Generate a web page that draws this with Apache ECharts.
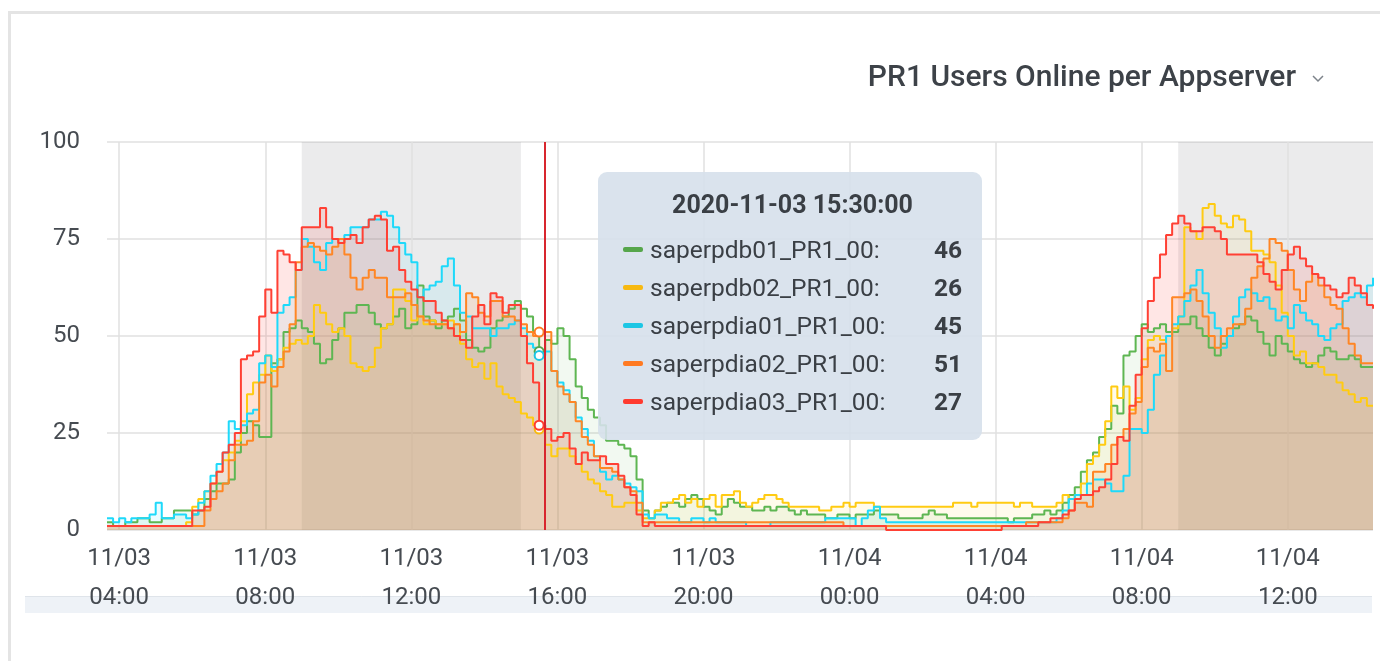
<!DOCTYPE html>
<html>
<head>
<meta charset="utf-8">
<script src="https://cdn.jsdelivr.net/npm/echarts@6/dist/echarts.min.js"></script>
<style>
  html, body { margin: 0; padding: 0; background: #ffffff; }
  #chart { width: 1380px; height: 661px; }
</style>
</head>
<body>
<div id="chart"></div>
<script>
// ---------------- DATA ----------------
const chartTitle = 'PR1 Users Online per Appserver';
const seriesNames = ['saperpdb01_PR1_00', 'saperpdb02_PR1_00', 'saperpdia01_PR1_00', 'saperpdia02_PR1_00', 'saperpdia03_PR1_00'];
// samples every 10 minutes, starting at this time
const firstSampleTime = '2020-11-03T03:40:00';
const sampleStepMinutes = 10;
const axisStart = '2020-11-03T03:40:00';
const axisEnd = '2020-11-04T14:20:00';
const xTickTimes = ['2020-11-03T04:00:00', '2020-11-03T08:00:00', '2020-11-03T12:00:00', '2020-11-03T16:00:00',
  '2020-11-03T20:00:00', '2020-11-04T00:00:00', '2020-11-04T04:00:00', '2020-11-04T08:00:00', '2020-11-04T12:00:00'];
const yTicks = [0, 25, 50, 75, 100];
const businessHours = [['2020-11-03T09:00:00', '2020-11-03T15:00:00'], ['2020-11-04T09:00:00', '2020-11-04T15:00:00']];
const annotationTime = '2020-11-03T15:40:00';
const hoverTime = '2020-11-03T15:30:00';

const saperpdb01 = [
  2,1,1,2,2,3,3,2,2,3,
  3,5,5,5,4,5,8,10,12,12,
  13,20,25,28,27,24,24,43,44,51,
  52,54,52,51,48,43,44,49,52,56,
  56,58,58,56,53,52,53,55,57,52,
  53,63,55,54,52,54,55,57,54,49,
  47,46,47,52,54,55,57,59,57,55,
  51,46,49,48,52,50,44,37,34,31,
  29,27,23,23,22,21,19,13,5,3,
  5,6,7,7,6,8,9,8,6,5,
  4,6,8,7,6,6,5,5,6,5,
  6,6,5,4,5,4,4,4,3,3,
  4,4,3,4,4,4,5,4,4,4,
  3,3,3,3,4,5,4,4,3,3,
  3,3,3,3,3,3,3,3,2,3,
  3,3,4,4,5,4,5,7,9,11,
  15,18,20,24,26,32,30,45,46,50,
  53,51,52,53,51,51,53,53,55,52,
  50,47,45,48,50,52,53,55,54,51,
  48,45,50,48,46,44,43,42,43,45,
  47,46,44,44,45,44,42,42,42
];
const saperpdb02 = [
  1,1,1,1,1,1,1,1,1,1,
  1,1,1,2,6,8,10,12,15,18,
  20,23,28,35,38,40,45,41,44,47,
  48,49,48,50,58,56,53,51,52,50,
  43,42,41,42,47,52,53,62,62,59,
  54,55,53,54,53,53,54,53,48,44,
  42,43,39,43,37,35,34,33,30,29,
  27,26,22,19,21,21,19,17,15,13,
  12,10,9,6,6,7,7,5,3,3,
  5,7,7,8,9,7,8,6,8,9,
  6,9,9,10,7,6,7,8,9,9,
  8,7,6,6,6,6,6,5,5,6,
  6,7,6,7,7,7,6,6,6,6,
  6,6,6,6,6,6,6,6,6,7,
  7,7,6,7,7,7,7,7,7,6,
  7,7,6,6,6,6,7,9,8,9,
  12,17,19,22,28,37,34,37,31,34,
  44,49,50,49,50,52,55,78,77,75,
  83,84,81,79,78,81,80,77,72,72,
  71,69,63,56,50,45,46,43,43,42,
  40,40,38,36,35,33,34,32,32
];
const saperpdia01 = [
  3,2,3,2,3,3,3,4,7,3,
  3,4,4,3,4,7,10,14,17,20,
  28,26,27,30,31,43,45,42,56,58,
  60,67,75,73,69,67,74,75,75,76,
  78,78,78,80,80,82,81,78,74,71,
  69,60,62,63,64,68,70,63,56,55,
  52,52,52,50,52,52,53,54,52,48,
  47,45,46,41,38,36,33,29,26,23,
  19,15,13,14,13,12,11,10,4,3,
  4,4,3,3,2,2,3,3,2,3,
  2,2,2,2,2,1,1,1,1,2,
  2,2,2,2,2,2,2,2,3,3,
  3,3,3,1,3,5,6,3,2,2,
  2,2,2,2,2,2,2,2,2,2,
  2,2,2,2,2,2,2,2,2,2,
  2,2,2,2,2,2,3,5,8,9,
  9,12,13,13,12,10,10,14,26,26,
  25,31,40,45,50,53,55,59,63,67,
  61,56,52,47,50,55,60,62,61,59,
  60,57,54,55,52,58,56,54,53,50,
  49,52,53,59,60,61,60,63,65
];
const saperpdia02 = [
  1,1,1,1,1,1,1,1,1,1,
  1,1,1,1,1,1,5,8,10,12,
  18,22,22,23,28,38,40,37,42,46,
  53,69,73,74,73,72,71,73,75,71,
  65,62,65,67,65,65,60,60,60,61,
  58,55,54,53,53,53,52,53,51,61,
  60,56,55,59,59,55,55,54,53,51,
  50,51,51,41,37,35,33,28,24,22,
  19,16,16,15,13,11,10,7,2,2,
  2,2,2,2,2,2,2,2,2,2,
  2,2,2,2,2,2,2,2,2,2,
  2,2,2,2,2,2,2,2,2,2,
  2,1,1,1,1,1,1,1,1,1,
  1,1,1,1,1,1,1,1,1,1,
  1,1,1,1,1,1,1,1,1,1,
  1,2,2,2,2,2,2,3,5,7,
  7,6,15,15,17,22,24,26,30,33,
  42,47,46,48,41,60,60,61,62,59,
  55,50,47,50,52,53,53,57,65,68,
  70,75,74,72,67,62,59,64,66,63,
  60,58,57,52,48,45,43,43,43
];
const saperpdia03 = [
  1,1,1,1,1,1,1,1,1,1,
  1,1,1,1,5,5,6,12,15,20,
  22,25,44,45,46,55,62,56,72,71,
  69,67,78,78,78,83,78,75,74,75,
  76,74,78,80,81,80,72,73,67,64,
  62,60,59,59,56,54,52,50,49,47,
  55,58,53,61,60,56,58,58,50,43,
  38,27,26,23,24,25,21,17,20,18,
  18,19,17,17,14,11,9,4,1,2,
  1,1,1,1,1,1,1,1,1,1,
  1,1,1,1,1,1,1,1,1,1,
  1,1,1,1,1,1,1,1,1,1,
  1,1,1,1,1,1,1,1,0,0,
  0,0,0,0,0,0,0,0,0,0,
  0,0,0,0,0,0,0,1,1,1,
  1,1,1,2,2,3,3,4,5,8,
  9,9,10,11,13,17,24,23,32,40,
  52,59,65,71,76,79,81,79,77,77,
  78,78,77,75,71,71,71,71,71,69,
  66,64,62,67,71,73,70,68,66,65,
  63,62,60,61,65,63,61,58,57
];
const seriesValues = [saperpdb01, saperpdb02, saperpdia01, saperpdia02, saperpdia03];

// ---------------- STYLE ----------------
const seriesColors = ['#56A64B', '#F7B911', '#1CC6E4', '#FF7A22', '#FF3B30'];
const fillOpacity = [0.08, 0.08, 0.09, 0.13, 0.13];
const FONT = 'Roboto, "Noto Sans", sans-serif';
const TEXT_COLOR = '#464b51';

const ms = s => new Date(s).getTime();
const pad = n => String(n).padStart(2, '0');
const t0 = ms(firstSampleTime);
const xMin = ms(axisStart), xMax = ms(axisEnd);

const chart = echarts.init(document.getElementById('chart'), null, { renderer: 'canvas' });

const dataSeries = seriesNames.map((name, si) => ({
  name: name,
  type: 'line',
  data: seriesValues[si].map((v, i) => [t0 + i * sampleStepMinutes * 60000, v]),
  step: 'end',
  showSymbol: false,
  symbol: 'emptyCircle',
  symbolSize: 9,
  color: seriesColors[si],
  lineStyle: { width: 2 },
  areaStyle: { opacity: fillOpacity[si] },
  emphasis: { disabled: false, focus: 'none', scale: false, lineStyle: { width: 2 } },
  z: 3
}));

const backgroundSeries = {
  name: '',
  type: 'line',
  data: [],
  silent: true,
  z: 1,
  markArea: {
    silent: true,
    z: 1,
    itemStyle: { color: 'rgba(120,120,125,0.15)' },
    data: businessHours.map(b => [{ xAxis: Math.max(ms(b[0]), xMin) }, { xAxis: Math.min(ms(b[1]), xMax) }])
  },
  markLine: {
    silent: true,
    z: 1,
    symbol: ['none', 'none'],
    label: { show: false },
    lineStyle: { color: '#e1e1e1', width: 1.5, type: 'solid' },
    data: xTickTimes.map(t => ({ xAxis: ms(t) }))
  }
};

const annotationSeries = {
  name: ' ',
  type: 'line',
  data: [],
  silent: true,
  z: 5,
  markLine: {
    silent: true,
    z: 6,
    symbol: ['none', 'none'],
    label: { show: false },
    lineStyle: { color: '#D8262E', width: 2, type: 'solid' },
    data: [{ xAxis: ms(annotationTime) }]
  }
};

const option = {
  animation: false,
  backgroundColor: '#ffffff',
  textStyle: { fontFamily: FONT },
  title: {
    text: chartTitle,
    right: 84,
    top: 63,
    padding: 0,
    textStyle: { fontFamily: FONT, fontSize: 30, fontWeight: 500, color: '#3d4248' }
  },
  graphic: [
    { type: 'rect', z: -10, silent: true, shape: { x: 9.5, y: 12.5, width: 1420, height: 720 },
      style: { fill: 'none', stroke: '#e4e4e4', lineWidth: 3 } },
    { type: 'rect', z: -10, silent: true, shape: { x: 25, y: 596, width: 1347, height: 17 },
      style: { fill: '#eef2f7', stroke: null } },
    { type: 'line', z: -9, silent: true, shape: { x1: 25, y1: 596.5, x2: 1372, y2: 596.5 },
      style: { stroke: '#dfe4ea', lineWidth: 1 } },
    { type: 'polyline', silent: true, shape: { points: [[1313, 76], [1318, 81], [1323, 76]] },
      style: { stroke: '#7d838a', lineWidth: 1.5, fill: null } }
  ],
  grid: { left: 107, right: 7, top: 142, bottom: 131, containLabel: false },
  xAxis: {
    type: 'value',
    min: xMin,
    max: xMax,
    axisLine: { show: false },
    axisTick: { show: false, customValues: xTickTimes.map(ms) },
    splitLine: { show: false },
    axisLabel: {
      customValues: xTickTimes.map(ms),
      fontFamily: FONT,
      fontSize: 24,
      lineHeight: 39,
      color: TEXT_COLOR,
      margin: 9,
      formatter: v => {
        const d = new Date(v);
        return pad(d.getMonth() + 1) + '/' + pad(d.getDate()) + '\n' + pad(d.getHours()) + ':' + pad(d.getMinutes());
      }
    },
    axisPointer: { type: 'line', lineStyle: { opacity: 0 }, label: { show: false } }
  },
  yAxis: {
    type: 'value',
    min: yTicks[0],
    max: yTicks[yTicks.length - 1],
    interval: 25,
    axisLine: { show: false },
    axisTick: { show: false },
    axisLabel: { fontFamily: FONT, fontSize: 24, color: TEXT_COLOR, margin: 27 },
    splitLine: { lineStyle: { color: '#e1e1e1', width: 1.5 } }
  },
  tooltip: {
    trigger: 'axis',
    triggerOn: 'none',
    alwaysShowContent: true,
    transitionDuration: 0,
    position: [598, 172],
    backgroundColor: 'rgba(214,224,235,0.9)',
    borderWidth: 0,
    padding: [17, 20, 20, 25],
    extraCssText: 'width:339px;box-sizing:content-box;border-radius:9px;box-shadow:none;',
    axisPointer: { type: 'line', lineStyle: { opacity: 0 } },
    formatter: params => {
      const list = params.filter(p => p.seriesName && p.seriesName.trim() !== '');
      const d = new Date(list.length ? list[0].value[0] : ms(hoverTime));
      const head = d.getFullYear() + '-' + pad(d.getMonth() + 1) + '-' + pad(d.getDate()) + ' ' +
        pad(d.getHours()) + ':' + pad(d.getMinutes()) + ':' + pad(d.getSeconds());
      let html = '<div style="font-family:' + FONT.replace(/"/g, "'") + ';color:#3a3f45;">';
      html += '<div style="text-align:center;font-weight:700;font-size:25px;line-height:32px;margin-bottom:9px;">' + head + '</div>';
      list.forEach(p => {
        html += '<div style="display:flex;align-items:center;height:38px;font-size:24.5px;">' +
          '<span style="display:inline-block;width:20px;height:5px;border-radius:2px;background:' + p.color + ';margin-right:7px;"></span>' +
          '<span style="flex:1;">' + p.seriesName + ':</span>' +
          '<span style="font-weight:700;">' + p.value[1] + '</span></div>';
      });
      html += '</div>';
      return html;
    }
  },
  series: [backgroundSeries].concat(dataSeries).concat([annotationSeries])
};

chart.setOption(option);

const hoverIndex = Math.round((ms(hoverTime) - t0) / (sampleStepMinutes * 60000));
function showHover() {
  chart.dispatchAction({ type: 'showTip', seriesIndex: 1, dataIndex: hoverIndex });
}
showHover();
setTimeout(showHover, 30);
</script>
</body>
</html>
